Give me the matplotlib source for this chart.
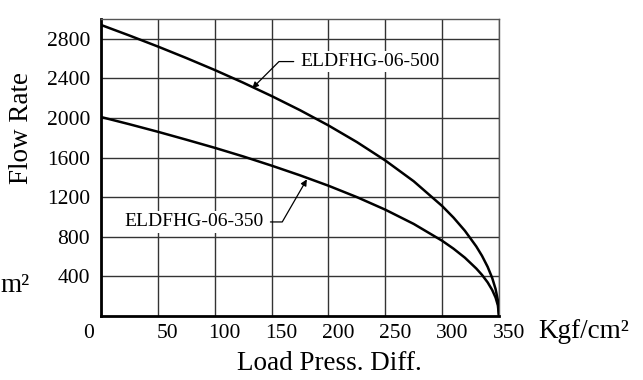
import numpy as np
import matplotlib
matplotlib.use("Agg")
import matplotlib.pyplot as plt
from matplotlib.transforms import ScaledTranslation

plt.rcParams["font.family"] = ["Liberation Serif", "DejaVu Serif"]

# load pressure difference (Kgf/cm2)
press = [0, 25, 50, 75, 100, 125, 150, 175, 200, 225, 250, 275, 300,
         310, 320, 330, 335, 340, 344, 347, 349, 350]
# flow rate
flow_500 = [2940, 2833, 2722, 2606, 2485, 2357, 2222, 2079, 1925, 1757, 1571, 1361, 1111,
            994, 861, 703, 609, 497, 385, 272, 157, 0]
flow_350 = [2010, 1937, 1861, 1781, 1699, 1612, 1519, 1421, 1316, 1201, 1074, 930, 760,
            680, 589, 480, 416, 340, 263, 186, 108, 0]

xticks = [0, 50, 100, 150, 200, 250, 300, 350]
yticks = [400, 800, 1200, 1600, 2000, 2400, 2800]

fig = plt.figure(figsize=(6.43, 3.80), dpi=100)
ax = fig.add_axes([101 / 643, 64 / 380, 398 / 643, 297 / 380])

ax.plot(press, flow_500, color="black", lw=1.8, zorder=3)
ax.plot(press, flow_350, color="black", lw=1.8, zorder=3)

ax.set_xlim(0, 350)
ax.set_ylim(0, 3000)
ax.set_xticks(xticks)
ax.set_xticklabels([str(v) for v in xticks], fontsize=15.5)
ax.set_yticks(yticks)
ax.set_yticklabels([str(v) for v in yticks], fontsize=15.5)
ax.tick_params(axis="y", length=0, pad=8)
ax.tick_params(axis="x", length=0, pad=6)
ax.grid(True, color="#333333", lw=1.0)

for lab, v in zip(ax.get_xticklabels(), xticks):
    dx = -12 if v == 0 else 10
    lab.set_transform(lab.get_transform() + ScaledTranslation(dx / 100, 0, fig.dpi_scale_trans))

for side in ["left", "bottom"]:
    ax.spines[side].set_linewidth(2.0)
for side in ["top", "right"]:
    ax.spines[side].set_linewidth(1.0)
    ax.spines[side].set_color("#555555")

box = dict(facecolor="white", edgecolor="none", pad=1.5)
ax.annotate("ELDFHG-06-500", xy=(133, 2300), xytext=(175, 2570),
            fontsize=14, va="center", ha="left", bbox=box, zorder=4,
            arrowprops=dict(arrowstyle="-|>", color="black", lw=0.9,
                            connectionstyle="angle,angleA=0,angleB=45,rad=0",
                            shrinkA=3, shrinkB=0, mutation_scale=9))
ax.annotate("ELDFHG-06-350", xy=(181, 1380), xytext=(21, 950),
            fontsize=14, va="center", ha="left", bbox=box, zorder=4,
            arrowprops=dict(arrowstyle="-|>", color="black", lw=0.9,
                            connectionstyle="angle,angleA=0,angleB=60,rad=0",
                            shrinkA=3, shrinkB=0, mutation_scale=9))

fig.text(22 / 643, 1 - 128 / 380, "Flow Rate", fontsize=19.5, rotation=90,
         ha="center", va="center")
fig.text(0, 1 - 285 / 380, "m²", fontsize=19.5, ha="left", va="center")
fig.text(538 / 643, 1 - 331 / 380, "Kgf/cm²", fontsize=19.5, ha="left", va="center")
fig.text(329 / 643, 1 - 364 / 380, "Load Press. Diff.", fontsize=19.5, ha="center", va="center")

fig.savefig("out.png", dpi=100)
